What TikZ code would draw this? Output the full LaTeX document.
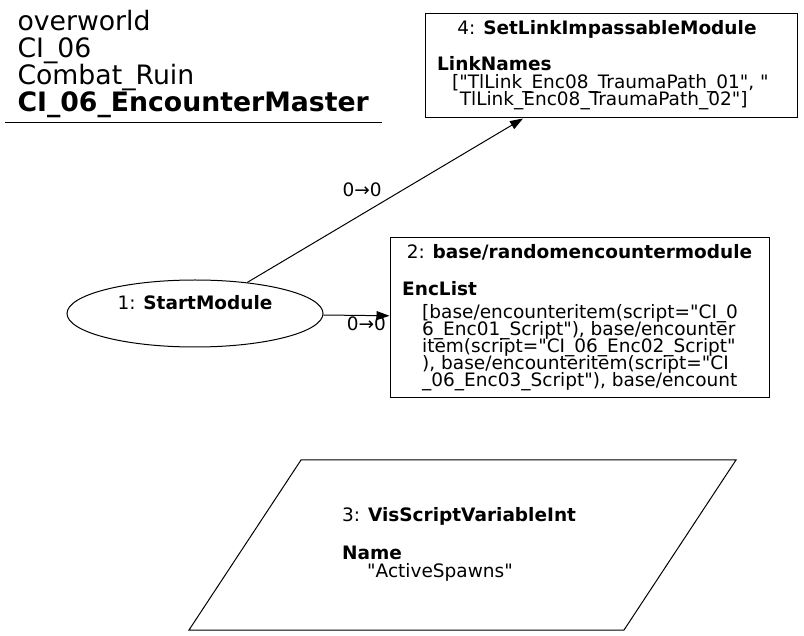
\documentclass[tikz,border=0pt]{standalone}
\usepackage{fontspec}
\setmainfont{DejaVu Sans}[Ligatures=TeXOff]
\usetikzlibrary{arrows.meta,shapes.geometric}

\newcommand\nodefont{\fontsize{18.5}{17}\selectfont\lineskiplimit=-100pt}
\newcommand\headfont{\fontsize{26.7}{27}\selectfont\lineskiplimit=-100pt}

\begin{document}
\begin{tikzpicture}[x=1pt,y=-1pt,->,>={Triangle[length=13pt,width=9pt]},line width=1pt,font=\nodefont,inner sep=0pt]
\tikzstyle{module}=[draw,rectangle,-]
\tikzstyle{txt}=[align=left,anchor=base west]
\tikzstyle{lbl}=[inner sep=3pt]
\useasboundingbox (0,0) rectangle (804,636);

% graph title (base = last line)
\node[txt,font=\headfont] (title) at (17,112) {overworld\\CI\_06\\Combat\_Ruin\\\textbf{CI\_06\_EncounterMaster}};
\draw[-] (5,123) -- (382,123);

% modules
\node[draw,ellipse,minimum width=256,minimum height=67] (n1) at (195,313.5) {};
\node[anchor=base] (n1t) at (195,310) {1: \textbf{StartModule}};

\node[module,minimum width=379,minimum height=160] (n2) at (579.5,318) {};
\node[anchor=base] (n2t) at (579.5,259) {2: \textbf{base/randomencountermodule}};
\node[txt] (n2b) at (401.7,387) {\textbf{EncList}\\[6pt]
  \hspace*{20pt}[base/encounteritem(script="CI\_0\\
  \hspace*{20pt}6\_Enc01\_Script"), base/encounter\\
  \hspace*{20pt}item(script="CI\_06\_Enc02\_Script"\\
  \hspace*{20pt}), base/encounteritem(script="CI\\
  \hspace*{20pt}\_06\_Enc03\_Script"), base/encount};

\node[module,minimum width=372,minimum height=104] (n4) at (611,66) {};
\node[anchor=base] (n4t) at (607,35) {4: \textbf{SetLinkImpassableModule}};
\node[txt] (n4b) at (436.7,106) {\textbf{LinkNames}\\[1pt]
  \hspace*{15pt}["TlLink\_Enc08\_TraumaPath\_01", "\\
  \hspace*{22.6pt}TlLink\_Enc08\_TraumaPath\_02"]};

% variable
\draw[-] (301,460) -- (736,460) -- (624,630) -- (189,630) -- cycle;
\node[txt] (n3t) at (341.7,521) {3: \textbf{VisScriptVariableInt}};
\node[txt] (n3b) at (341.7,577) {\textbf{Name}\\[1pt]
  \hspace*{25pt}"ActiveSpawns"};

% links
\draw (n1) -- node[lbl,pos=0.5,above left] (e14) {0→0} (n4);
\draw (n1) -- node[lbl,pos=0.65,below,inner sep=0.5pt] (e12) {0→0} (n2);
\end{tikzpicture}
\end{document}
